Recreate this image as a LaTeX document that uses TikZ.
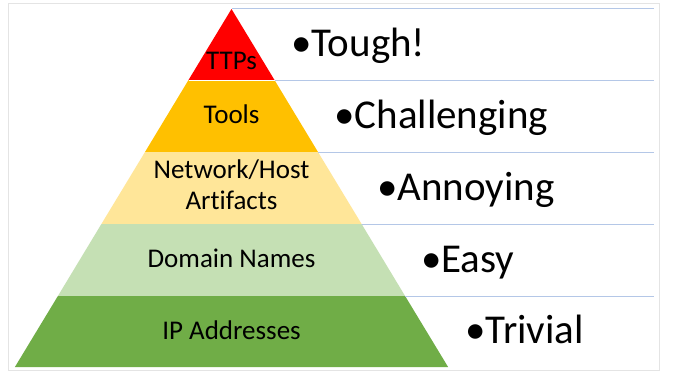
\documentclass[tikz,border=0pt]{standalone}
\usepackage{fontspec}
\setmainfont{Carlito}[RawFeature={-liga}]
\definecolor{cRed}{HTML}{FF0000}
\definecolor{cAmber}{HTML}{FFC000}
\definecolor{cPale}{HTML}{FFE699}
\definecolor{cLight}{HTML}{C5E0B4}
\definecolor{cGreen}{HTML}{70AD47}
\definecolor{ruleBlue}{HTML}{B4C7E7}
\definecolor{frameGray}{HTML}{E4E4E4}
\begin{document}
\begin{tikzpicture}[x=1pt,y=-1pt,
  lvl/.style={font=\fontsize{27}{31}\selectfont, anchor=base, align=center, inner sep=0pt},
  diff/.style={font=\fontsize{41}{48}\selectfont, anchor=base west, inner sep=0pt},
  rulel/.style={draw=ruleBlue, line width=1pt},
  sep/.style={draw=white, line width=0.6pt}]
\useasboundingbox (0,0) rectangle (679,383);
\fill[white] (0,0) rectangle (679,383);
\draw[frameGray, line width=1pt] (8,3) rectangle (659,370);
% band corners
\coordinate (apex) at (231.5,9);
\coordinate (L1) at (188.5,80);  \coordinate (R1) at (274.5,80);
\coordinate (L2) at (145.0,152); \coordinate (R2) at (318.0,152);
\coordinate (L3) at (101.4,224); \coordinate (R3) at (361.6,224);
\coordinate (L4) at (57.9,296);  \coordinate (R4) at (405.1,296);
\coordinate (L5) at (14.9,367);  \coordinate (R5) at (448.1,367);
% rule end points
\coordinate (E0) at (654,8.5);
\coordinate (E1) at (654,80);
\coordinate (E2) at (654,152);
\coordinate (E3) at (654,224);
\coordinate (E4) at (654,296);
% bands
\fill[cRed] (apex) -- (R1) -- (L1) -- cycle;
\fill[cAmber] (L1) -- (R1) -- (R2) -- (L2) -- cycle;
\fill[cPale] (L2) -- (R2) -- (R3) -- (L3) -- cycle;
\fill[cLight] (L3) -- (R3) -- (R4) -- (L4) -- cycle;
\fill[cGreen] (L4) -- (R4) -- (R5) -- (L5) -- cycle;
\draw[sep] (L1) -- (R1);
% rules
\draw[rulel] (231.5,8.5) -- (E0);
\draw[rulel] (R1) -- (E1);
\draw[rulel] (R2) -- (E2);
\draw[rulel] (R3) -- (E3);
\draw[rulel] (R4) -- (E4);
% level labels
\node[lvl] (ttps) at (231.5,69) {TTPs};
\node[lvl] (tools) at (231.5,123) {Tools};
\node[lvl] (net) at (231.5,209) {Network/Host\\Artifacts};
\node[lvl] (dom) at (231.5,267) {Domain Names};
\node[lvl] (ip) at (231.5,339) {IP Addresses};
% difficulty labels
\node[diff] (tough) at (291,56) {•Tough!};
\node[diff] (chal) at (334,128) {•Challenging};
\node[diff] (ann) at (377,200) {•Annoying};
\node[diff] (easy) at (421,272) {•Easy};
\node[diff] (triv) at (465,343) {•Trivial};
\end{tikzpicture}
\end{document}
